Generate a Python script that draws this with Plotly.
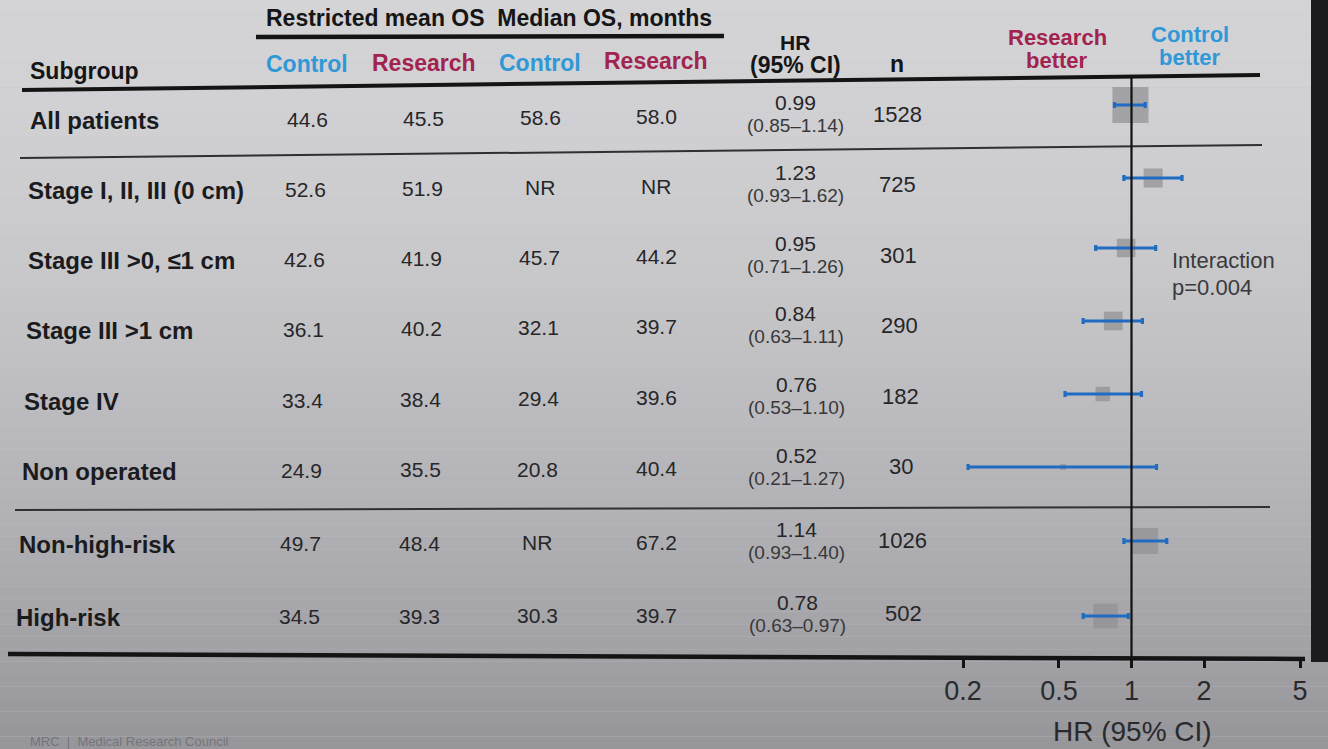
import math
import plotly.graph_objects as go

# ---------------- data ----------------
subgroups = [
    "All patients",
    "Stage I, II, III (0 cm)",
    "Stage III >0, ≤1 cm",
    "Stage III >1 cm",
    "Stage IV",
    "Non operated",
    "Non-high-risk",
    "High-risk",
]
rmst_control = [44.6, 52.6, 42.6, 36.1, 33.4, 24.9, 49.7, 34.5]
rmst_research = [45.5, 51.9, 41.9, 40.2, 38.4, 35.5, 48.4, 39.3]
median_control = [58.6, None, 45.7, 32.1, 29.4, 20.8, None, 30.3]   # None = not reached
median_research = [58.0, None, 44.2, 39.7, 39.6, 40.4, 67.2, 39.7]
hr = [0.99, 1.23, 0.95, 0.84, 0.76, 0.52, 1.14, 0.78]
hr_low = [0.85, 0.93, 0.71, 0.63, 0.53, 0.21, 0.93, 0.63]
hr_high = [1.14, 1.62, 1.26, 1.11, 1.10, 1.27, 1.40, 0.97]
n_patients = [1528, 725, 301, 290, 182, 30, 1026, 502]
axis_ticks = [0.2, 0.5, 1, 2, 5]
interaction_text = ["Interaction", "p=0.004"]

# ---------------- layout geometry (pixels) ----------------
W, H = 1328, 749
FONT = "Liberation Sans, Arial, sans-serif"
C_CONTROL = "#2f98d6"
C_RESEARCH = "#a2234f"
C_TEXT = "#262628"
C_CI = "#1f6cc2"

row_y_left = [121, 191, 261, 331, 402, 472, 545, 618]    # row centres near x=90
row_y_right = [114, 184, 255, 325, 396, 467, 541, 614]   # row centres near x=900
forest_y = [105, 178, 248, 321, 394, 467, 541, 616]
label_x = [28, 26, 26, 24, 22, 20, 17, 14]
col_x_top = {"c1": 307, "c2": 423, "c3": 540, "c4": 656, "hr": 795, "n": 897}
col_x_bot = {"c1": 299, "c2": 419, "c3": 537, "c4": 656, "hr": 797, "n": 903}
nrows = len(subgroups)


def row_y(i, x):
    t = (x - 90) / (900 - 90)
    return row_y_left[i] + (row_y_right[i] - row_y_left[i]) * t


def col_x(key, i):
    t = i / (nrows - 1)
    return col_x_top[key] + (col_x_bot[key] - col_x_top[key]) * t


def fmt(v):
    return "NR" if v is None else f"{v:.1f}"


fig = go.Figure()

# marker side proportional to 1/SE of log HR (inverse-variance weighting)
sizes = []
for lo, hi in zip(hr_low, hr_high):
    se = (math.log(hi) - math.log(lo)) / 3.92
    sizes.append(2.7 / se)

fig.add_trace(go.Scatter(
    x=hr, y=forest_y, mode="markers",
    marker=dict(symbol="square", size=sizes, color="#909093", line=dict(width=0)),
    hoverinfo="skip", showlegend=False,
))
fig.add_trace(go.Scatter(
    x=hr, y=forest_y, mode="markers",
    marker=dict(size=1, color=C_CI, opacity=0),
    error_x=dict(type="data", symmetric=False,
                 array=[h - m for h, m in zip(hr_high, hr)],
                 arrayminus=[m - l for m, l in zip(hr, hr_low)],
                 color=C_CI, thickness=3.2, width=3),
    hoverinfo="skip", showlegend=False,
))

shapes = []
# background: soft vertical light falloff of the projected slide
top_rgb = (212, 212, 215)
bot_rgb = (150, 150, 155)
bands = 60
for k in range(bands):
    t = k / (bands - 1)
    t2 = t ** 1.6
    c = tuple(int(a + (b - a) * t2) for a, b in zip(top_rgb, bot_rgb))
    shapes.append(dict(type="rect", xref="paper", yref="paper", layer="below",
                       x0=0, x1=1, y0=1 - (k + 1) / bands, y1=1 - k / bands,
                       fillcolor=f"rgb{c}", line=dict(width=0)))
# dark frame edge on the right
shapes.append(dict(type="rect", xref="paper", yref="y", layer="below",
                   x0=1311 / W, x1=1, y0=0, y1=662,
                   fillcolor="#1c1c1f", line=dict(width=0)))


def hline(x0, y0, x1, y1, w, color="#141414"):
    shapes.append(dict(type="line", xref="paper", yref="y",
                       x0=x0 / W, y0=y0, x1=x1 / W, y1=y1,
                       line=dict(color=color, width=w)))


hline(256, 37, 724, 36, 4.5)          # under the OS header
hline(22, 90, 1260, 75, 4)            # header rule
hline(20, 158, 1262, 145, 2, "#303032")   # after all patients
hline(15, 510, 1270, 507, 2, "#303032")   # before risk groups
hline(8, 654, 1305, 659, 4.5)         # bottom rule / HR axis

# line of no effect
shapes.append(dict(type="line", xref="x", yref="y", x0=1, x1=1, y0=77, y1=660,
                   line=dict(color="#111111", width=2.2)))

ann = []


def text(x, y, s, size, color=C_TEXT, bold=False, anchor="center"):
    if bold:
        s = f"<b>{s}</b>"
    ann.append(dict(xref="paper", yref="y", x=x / W, y=y, text=s, showarrow=False,
                    xanchor=anchor, yanchor="middle",
                    font=dict(family=FONT, size=size, color=color)))


# headers
text(489, 18, "Restricted mean OS  Median OS, months", 23, "#151515", True)
text(28, 71, "Subgroup", 23, "#151515", True, "left")
text(307, 64, "Control", 23, C_CONTROL, True)
text(424, 63, "Research", 23, C_RESEARCH, True)
text(540, 63, "Control", 23, C_CONTROL, True)
text(656, 61, "Research", 23, C_RESEARCH, True)
text(795, 42, "HR", 21, "#151515", True)
text(795, 65, "(95% CI)", 23, "#151515", True)
text(897, 64, "n", 23, "#151515", True)
text(1057, 37, "Research", 22, C_RESEARCH, True)
text(1057, 60, "better", 22, C_RESEARCH, True)
text(1190, 34, "Control", 22, C_CONTROL, True)
text(1190, 57, "better", 22, C_CONTROL, True)

# table body
for i in range(nrows):
    text(label_x[i], row_y(i, 100), subgroups[i], 24, "#1b1b1d", True, "left")
    for key, vals in (("c1", rmst_control), ("c2", rmst_research),
                      ("c3", median_control), ("c4", median_research)):
        x = col_x(key, i)
        text(x, row_y(i, x), fmt(vals[i]), 21)
    x = col_x("hr", i)
    yc = row_y(i, x)
    text(x, yc - 12, f"{hr[i]:.2f}", 21)
    text(x, yc + 11, f"({hr_low[i]:.2f}–{hr_high[i]:.2f})", 19, "#38383a")
    x = col_x("n", i)
    text(x, row_y(i, x), f"{n_patients[i]}", 22)

text(1170, 260, interaction_text[0], 22, "#3a3a3c", False, "left")
text(1170, 287, interaction_text[1], 22, "#3a3a3c", False, "left")
text(1132, 731, "HR (95% CI)", 28, "#2a2a2c")
text(28, 741, "MRC  |  Medical Research Council", 13, "rgba(70,70,80,0.45)", False, "left")

fig.update_layout(
    width=W, height=H,
    margin=dict(l=0, r=0, t=0, b=0, pad=0, autoexpand=False),
    paper_bgcolor="#c4c4c7", plot_bgcolor="rgba(0,0,0,0)",
    shapes=shapes, annotations=ann, showlegend=False,
    xaxis=dict(type="log", domain=[963 / W, 1300 / W],
               range=[math.log10(0.2), math.log10(5)],
               anchor="free", position=1 - 658 / H,
               showline=False, showgrid=False, zeroline=False,
               ticks="outside", ticklen=9, tickwidth=3, tickcolor="#141414",
               tickvals=axis_ticks, ticktext=[f"{v:g}" for v in axis_ticks],
               tickfont=dict(family=FONT, size=27, color="#2a2a2c")),
    yaxis=dict(range=[H, 0], domain=[0, 1], visible=False, fixedrange=True),
)

fig.write_html("out.html")
